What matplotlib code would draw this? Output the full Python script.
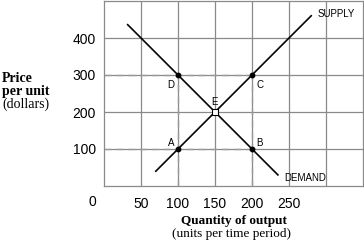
import matplotlib
matplotlib.use("Agg")
import matplotlib.pyplot as plt

# curve end points (quantity, price)
supply_q = [70, 280]
supply_p = [40, 460]
demand_q = [32, 235]
demand_p = [436, 30]

# labelled points
pt_names = ["A", "B", "C", "D"]
pt_q = [100, 200, 200, 100]
pt_p = [100, 100, 300, 300]
eq_q, eq_p = 150, 200

xticks = [50, 100, 150, 200, 250]
yticks = [100, 200, 300, 400]

GRID = "#8a8a8a"

fig = plt.figure(figsize=(3.64, 2.44), dpi=100)
ax = fig.add_axes([104/364, 58/244, 259/364, 185/244])
ax.set_xlim(0, 350)
ax.set_ylim(0, 500)

for v in [50, 100, 150, 200, 250, 300]:
    ax.axvline(v, color=GRID, lw=0.9, zorder=0)
for v in [100, 200, 300, 400]:
    ax.axhline(v, color=GRID, lw=0.9, zorder=0)
for s in ax.spines.values():
    s.set_color(GRID)
    s.set_linewidth(0.9)

# dashed guides
dash = dict(color="#999999", lw=1.0, ls=(0, (5, 3.5)), zorder=1)
ax.plot([0, 200], [300, 300], **dash)
ax.plot([0, 200], [100, 100], **dash)
ax.plot([100, 100], [0, 300], **dash)
ax.plot([200, 200], [0, 300], **dash)

ax.plot(supply_q, supply_p, color="black", lw=1.2, zorder=2)
ax.plot(demand_q, demand_p, color="black", lw=1.2, zorder=2)

ax.scatter(pt_q, pt_p, s=10, color="black", zorder=3)
ax.scatter([eq_q], [eq_p], s=16, marker="s", facecolor="white",
           edgecolor="black", linewidths=0.8, zorder=4)

offs = {"A": (-7, 6), "B": (7, 6), "C": (8, -10), "D": (-7, -10)}
for n, q, p in zip(pt_names, pt_q, pt_p):
    ax.annotate(n, (q, p), xytext=offs[n], textcoords="offset pixels",
                ha="center", va="center", fontsize=7, family="Liberation Sans")
ax.annotate("E", (eq_q, eq_p), xytext=(0, 10), textcoords="offset pixels",
            ha="center", va="center", fontsize=7, family="Liberation Sans")

ax.text(318/364, 230/244, "SUPPLY", transform=fig.transFigure, fontsize=7,
        family="Liberation Sans", ha="left", va="center")
ax.text(284/364, 66/244, "DEMAND", transform=fig.transFigure, fontsize=7,
        family="Liberation Sans", ha="left", va="center")

ax.set_xticks(xticks)
ax.set_yticks(yticks)
ax.tick_params(axis="x", length=0, labelsize=10, pad=8)
ax.tick_params(axis="y", length=0, labelsize=10, pad=6)
for lab in ax.get_xticklabels() + ax.get_yticklabels():
    lab.set_family("Liberation Sans")
ax.annotate("0", (0, 0), xytext=(-12, -16), textcoords="offset pixels",
            ha="center", va="center", fontsize=10, family="Liberation Sans",
            annotation_clip=False)

fig.text(2/364, 1 - 79/244, "Price", fontsize=10, weight="bold",
         family="Liberation Serif", ha="left", va="center")
fig.text(2/364, 1 - 92/244, "per unit", fontsize=10, weight="bold",
         family="Liberation Serif", ha="left", va="center")
fig.text(2/364, 1 - 104/244, "(dollars)", fontsize=10,
         family="Liberation Serif", ha="left", va="center")
fig.text(234/364, 1 - 221/244, "Quantity of output", fontsize=9.5, weight="bold",
         family="Liberation Serif", ha="center", va="center")
fig.text(232/364, 1 - 234/244, "(units per time period)", fontsize=9.5,
         family="Liberation Serif", ha="center", va="center")

fig.savefig("out.png", dpi=100)
